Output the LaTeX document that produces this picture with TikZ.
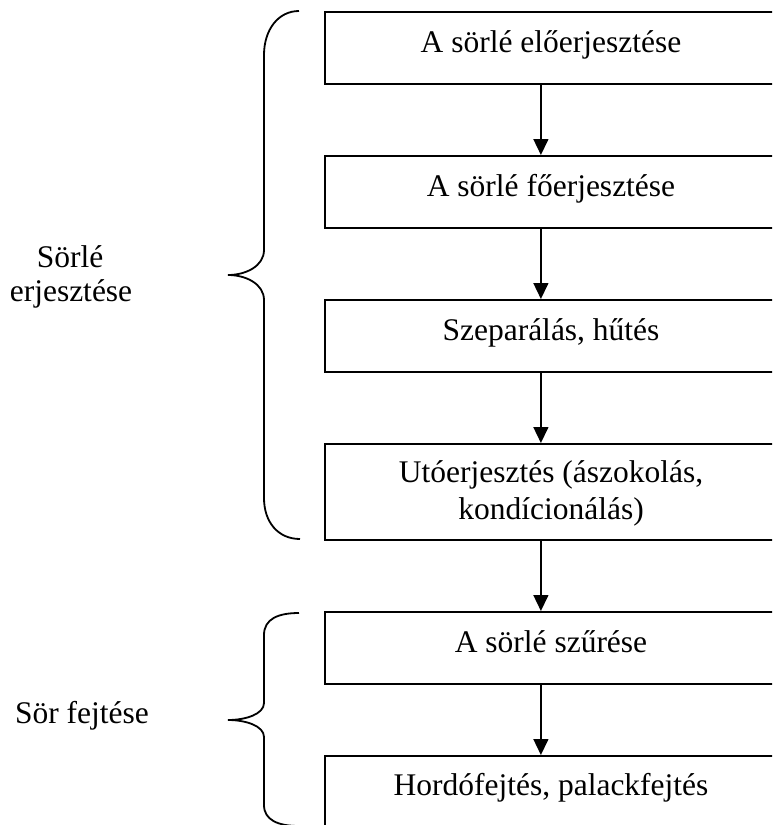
\documentclass[tikz,border=0pt]{standalone}
\usepackage{fontspec}
\setmainfont{Liberation Serif}
\usetikzlibrary{arrows.meta}
\begin{document}
\begin{tikzpicture}[x=1pt,y=-1pt,
  stepbox/.style={draw,line width=1.8pt,anchor=north west,minimum width=454pt,minimum height=72pt,inner sep=0pt},
  txt/.style={anchor=base,inner sep=0pt,font=\fontsize{31.5}{37}\selectfont},
  arr/.style={line width=1.5pt,-{Triangle[width=15pt,length=16pt]}},
  brace/.style={line width=1.8pt}]
\useasboundingbox (0,0) rectangle (772,825);
\clip (0,0) rectangle (772,825);
% boxes
\node[stepbox] (b1) at (324,11) {};
\node[stepbox] (b2) at (324,155) {};
\node[stepbox] (b3) at (324,299) {};
\node[stepbox,minimum height=96pt] (b4) at (324,443) {};
\node[stepbox] (b5) at (324,611) {};
\node[stepbox] (b6) at (324,755) {};
% texts
\node[txt] (t1) at (551,52) {A sörlé előerjesztése};
\node[txt] (t2) at (551,196) {A sörlé főerjesztése};
\node[txt] (t3) at (551,340) {Szeparálás, hűtés};
\node[txt] (t4a) at (551,482) {Utóerjesztés (ászokolás,};
\node[txt] (t4b) at (551,519) {kondícionálás)};
\node[txt] (t5) at (551,652) {A sörlé szűrése};
\node[txt] (t6) at (551,795) {Hordófejtés, palackfejtés};
% arrows
\draw[arr] ([xshift=-11pt]b1.south) -- ([xshift=-11pt]b2.north);
\draw[arr] ([xshift=-11pt]b2.south) -- ([xshift=-11pt]b3.north);
\draw[arr] ([xshift=-11pt]b3.south) -- ([xshift=-11pt]b4.north);
\draw[arr] ([xshift=-11pt]b4.south) -- ([xshift=-11pt]b5.north);
\draw[arr] ([xshift=-11pt]b5.south) -- ([xshift=-11pt]b6.north);
% braces
\draw[brace] (299,11) .. controls (278,11) and (264,30) .. (264,55) -- (264,250)
  .. controls (264,266) and (246,275) .. (228,275)
  .. controls (246,275) and (264,284) .. (264,300) -- (264,498)
  .. controls (264,522) and (278,539) .. (300,539);
\draw[brace] (299,613) .. controls (278,613) and (264,619) .. (264,635) -- (264,703)
  .. controls (264,714) and (246,720) .. (228,720)
  .. controls (246,720) and (264,726) .. (264,737) -- (264,805)
  .. controls (264,820) and (278,826) .. (299,826);
% left labels
\node[txt] (l1a) at (70,267) {Sörlé};
\node[txt] (l1b) at (71,301) {erjesztése};
\node[txt] (l2) at (82,723) {Sör fejtése};
\end{tikzpicture}
\end{document}
